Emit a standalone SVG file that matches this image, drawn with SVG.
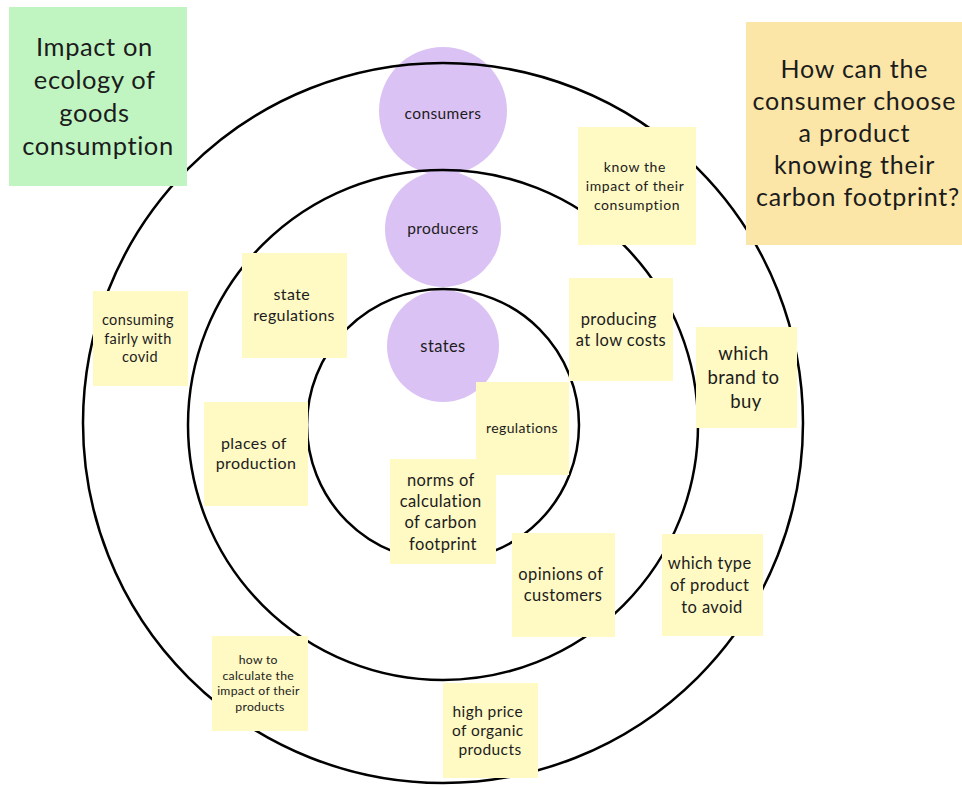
<svg xmlns="http://www.w3.org/2000/svg" width="962" height="787" viewBox="0 0 962 787">
  <style>
    text { font-family: Lato, "Open Sans", "Liberation Sans", sans-serif; fill: #1c1c1c; text-anchor: middle; letter-spacing: 0.4px; }
    .sticky { fill: #fff9c4; }
    .actor { fill: #dbc2f4; }
    .ring { fill: none; stroke: #000; stroke-width: 2.5; }
  </style>
  <rect width="962" height="787" fill="#ffffff"/>

  <!-- actor circles -->
  <g id="consumers">
    <circle class="actor" cx="443" cy="111" r="64"/>
    <text x="443" y="119" font-size="15.5">consumers</text>
  </g>
  <g id="producers">
    <circle class="actor" cx="443" cy="229" r="58"/>
    <text x="443" y="234" font-size="15.5">producers</text>
  </g>
  <g id="states">
    <circle class="actor" cx="443" cy="346" r="56"/>
    <text x="443" y="352" font-size="16.5">states</text>
  </g>

  <!-- concentric rings -->
  <g id="rings">
    <circle class="ring" cx="443" cy="423" r="360"/>
    <circle class="ring" cx="443" cy="425" r="255"/>
    <circle class="ring" cx="443" cy="425" r="136"/>
  </g>

  <!-- title cards -->
  <g id="title">
    <rect x="9" y="7" width="178" height="179" fill="#c0f5c2"/>
    <text font-size="25.5" style="letter-spacing:0.6px">
      <tspan x="98" y="56">Impact on</tspan>
      <tspan x="98" y="89">ecology of</tspan>
      <tspan x="98" y="122">goods</tspan>
      <tspan x="98" y="155">consumption</tspan>
    </text>
  </g>
  <g id="question">
    <rect x="746" y="22" width="216" height="223" fill="#fbe6a8"/>
    <text font-size="25" style="letter-spacing:0.8px">
      <tspan x="858" y="78">How can the</tspan>
      <tspan x="858" y="110">consumer choose</tspan>
      <tspan x="858" y="142">a product</tspan>
      <tspan x="858" y="174">knowing their</tspan>
      <tspan x="858" y="206">carbon footprint?</tspan>
    </text>
  </g>

  <!-- sticky notes -->
  <g id="know-impact">
    <rect class="sticky" x="578" y="127" width="118" height="118"/>
    <text font-size="14" style="letter-spacing:0.6px">
      <tspan x="637" y="172">know the</tspan>
      <tspan x="637" y="191">impact of their</tspan>
      <tspan x="637" y="210">consumption</tspan>
    </text>
  </g>
  <g id="low-costs">
    <rect class="sticky" x="569" y="278" width="104" height="103"/>
    <text font-size="16.5">
      <tspan x="621" y="325">producing</tspan>
      <tspan x="621" y="346">at low costs</tspan>
    </text>
  </g>
  <g id="which-brand">
    <rect class="sticky" x="696" y="327" width="101" height="101"/>
    <text font-size="18.5">
      <tspan x="746" y="360">which</tspan>
      <tspan x="746" y="384">brand to</tspan>
      <tspan x="746" y="408">buy</tspan>
    </text>
  </g>
  <g id="fairly-covid">
    <rect class="sticky" x="93" y="291" width="95" height="95"/>
    <text font-size="14.5">
      <tspan x="140" y="325">consuming</tspan>
      <tspan x="140" y="344">fairly with</tspan>
      <tspan x="140" y="362">covid</tspan>
    </text>
  </g>
  <g id="state-regulations">
    <rect class="sticky" x="242" y="253" width="105" height="105"/>
    <text font-size="16">
      <tspan x="294" y="300">state</tspan>
      <tspan x="294" y="321">regulations</tspan>
    </text>
  </g>
  <g id="places">
    <rect class="sticky" x="204" y="402" width="104" height="104"/>
    <text font-size="16">
      <tspan x="256" y="449">places of</tspan>
      <tspan x="256" y="469">production</tspan>
    </text>
  </g>
  <g id="regulations">
    <rect class="sticky" x="476" y="382" width="93" height="93"/>
    <text x="522" y="433" font-size="14">regulations</text>
  </g>
  <g id="norms">
    <rect class="sticky" x="390" y="459" width="106" height="105"/>
    <text font-size="16.5">
      <tspan x="443" y="486">norms of</tspan>
      <tspan x="443" y="507">calculation</tspan>
      <tspan x="443" y="528">of carbon</tspan>
      <tspan x="443" y="550">footprint</tspan>
    </text>
  </g>
  <g id="opinions">
    <rect class="sticky" x="512" y="533" width="103" height="104"/>
    <text font-size="16.5">
      <tspan x="563" y="580">opinions of</tspan>
      <tspan x="563" y="601">customers</tspan>
    </text>
  </g>
  <g id="which-type">
    <rect class="sticky" x="662" y="534" width="101" height="102"/>
    <text font-size="16.5">
      <tspan x="712" y="569">which type</tspan>
      <tspan x="712" y="591">of product</tspan>
      <tspan x="712" y="613">to avoid</tspan>
    </text>
  </g>
  <g id="how-to-calculate">
    <rect class="sticky" x="212" y="636" width="96" height="95"/>
    <text font-size="12.2" style="letter-spacing:0.3px">
      <tspan x="260" y="664">how to</tspan>
      <tspan x="260" y="680">calculate the</tspan>
      <tspan x="260" y="695">impact of their</tspan>
      <tspan x="260" y="711">products</tspan>
    </text>
  </g>
  <g id="high-price">
    <rect class="sticky" x="443" y="683" width="95" height="95"/>
    <text font-size="15.5">
      <tspan x="490" y="717">high price</tspan>
      <tspan x="490" y="736">of organic</tspan>
      <tspan x="490" y="755">products</tspan>
    </text>
  </g>
</svg>
